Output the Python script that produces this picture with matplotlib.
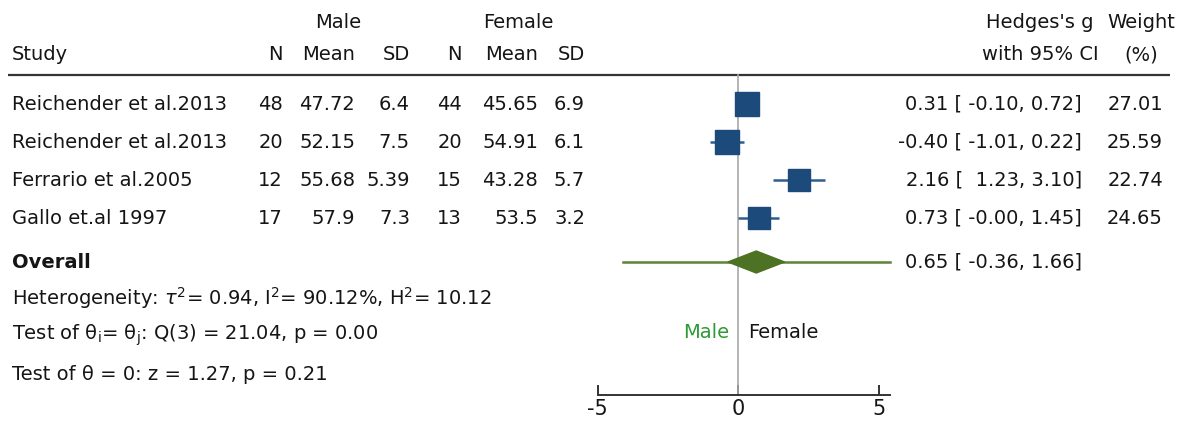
import matplotlib
matplotlib.use("Agg")
import numpy as np
import matplotlib.pyplot as plt
import matplotlib.transforms as mtransforms

plt.rcParams['font.family'] = ['DejaVu Sans']
plt.rcParams['axes.unicode_minus'] = False

# study level data
studies = ['Reichender et al.2013', 'Reichender et al.2013',
           'Ferrario et al.2005', 'Gallo et.al 1997']
male_n = [48, 20, 12, 17]
male_mean = ['47.72', '52.15', '55.68', '57.9']
male_sd = ['6.4', '7.5', '5.39', '7.3']
female_n = [44, 20, 15, 13]
female_mean = ['45.65', '54.91', '43.28', '53.5']
female_sd = ['6.9', '6.1', '5.7', '3.2']
g = [0.31, -0.40, 2.16, 0.73]
ci_lo = [-0.10, -1.01, 1.23, -0.00]
ci_hi = [0.72, 0.22, 3.10, 1.45]
weight = [27.01, 25.59, 22.74, 24.65]

# pooled estimate and prediction interval
overall_g = 0.65
overall_lo = -0.36
overall_hi = 1.66
pred_lo = -4.1
pred_hi = 5.4

xticks = [-5, 0, 5]

W, H = 1179, 426
fig = plt.figure(figsize=(W / 100, H / 100), dpi=100)
ax = fig.add_axes([0, 0, 1, 1])

# x in effect units (28.1 px per unit, zero at 738 px), y in row units (38 px per row)
pxu = 28.1
x0 = 738
ax.set_xlim(-x0 / pxu, (W - x0) / pxu)
row0, rowh = 104, 38
ax.set_ylim((H - row0) / rowh, -row0 / rowh)

def ry(px):
    return (px - row0) / rowh

tx = mtransforms.blended_transform_factory(ax.transAxes, ax.transData)
fs = 14
ink = '#151515'

def put(xpx, y, s, ha='left', **kw):
    ax.text(xpx / W, y, s, transform=tx, ha=ha, va='center',
            fontsize=kw.pop('fontsize', fs), color=kw.pop('color', ink), **kw)

# header
put(338, ry(22), 'Male', ha='center')
put(518, ry(22), 'Female', ha='center')
put(1040, ry(22), "Hedges's g", ha='center')
put(1141, ry(22), 'Weight', ha='center')
put(12, ry(55), 'Study')
for xr, s in [(283, 'N'), (355, 'Mean'), (410, 'SD'),
              (462, 'N'), (538, 'Mean'), (585, 'SD')]:
    put(xr, ry(55), s, ha='right')
put(1040, ry(55), 'with 95% CI', ha='center')
put(1141, ry(55), '(%)', ha='center')
ax.plot([8 / W, 1170 / W], [ry(75), ry(75)], transform=tx,
        color='#333333', lw=1.6, solid_capstyle='butt')

# study rows
rows = np.arange(len(studies))
for i, y in enumerate(rows):
    put(12, y, studies[i])
    put(283, y, str(male_n[i]), ha='right')
    put(355, y, male_mean[i], ha='right')
    put(410, y, male_sd[i], ha='right')
    put(462, y, str(female_n[i]), ha='right')
    put(538, y, female_mean[i], ha='right')
    put(585, y, female_sd[i], ha='right')
    lo = f'{ci_lo[i]:.2f}'
    if ci_lo[i] == 0:
        lo = '-0.00'
    put(1082, y, f'{g[i]:.2f} [{lo:>6}, {ci_hi[i]:.2f}]', ha='right')
    put(1163, y, f'{weight[i]:.2f}', ha='right')

blue = '#1c4a7b'
ax.hlines(rows, ci_lo, ci_hi, color='#2f5d8e', lw=1.8, zorder=3)
wmax = max(weight)
for i, y in enumerate(rows):
    ax.plot(g[i], y, marker='s', ms=17.3 * np.sqrt(weight[i] / wmax),
            color=blue, mec=blue, zorder=4)

# overall row
y_ov = ry(262)
put(12, y_ov, 'Overall', fontweight='bold')
put(1082, y_ov, f'{overall_g:.2f} [{overall_lo:>6.2f}, {overall_hi:.2f}]', ha='right')
ax.plot([pred_lo, pred_hi], [y_ov, y_ov], color='#5e8237', lw=1.8, zorder=3)
dh = 11 / rowh
ax.fill([overall_lo, overall_g, overall_hi, overall_g],
        [y_ov, y_ov - dh, y_ov, y_ov + dh], color='#4d7224', zorder=4)

# heterogeneity statistics
put(12, ry(298), r'Heterogeneity: $\tau^2$= 0.94, I$^2$= 90.12%, H$^2$= 10.12')
put(12, ry(335), r'Test of θ$_\mathrm{i}$= θ$_\mathrm{j}$: Q(3) = 21.04, p = 0.00')
put(12, ry(374), 'Test of θ = 0: z = 1.27, p = 0.21')

# line of no effect
ax.plot([0, 0], [ry(75), ry(395)], color='#a8a8a8', lw=1.2, zorder=2)
ax.text(-0.3, ry(333), 'Male', ha='right', va='center', fontsize=fs, color='#2e9a35')
ax.text(0.35, ry(333), 'Female', ha='left', va='center', fontsize=fs, color=ink)

# x axis
for side in ['top', 'right', 'left']:
    ax.spines[side].set_visible(False)
ax.spines['bottom'].set_position(('data', ry(395)))
ax.spines['bottom'].set_bounds(-5, 5.4)
ax.spines['bottom'].set_color('#333333')
ax.spines['bottom'].set_linewidth(1.4)
ax.set_xticks(xticks)
ax.set_xticklabels([str(t) for t in xticks])
ax.tick_params(axis='x', direction='in', length=7, width=1.4, color='#333333',
               labelsize=15, pad=3, labelcolor=ink)
ax.set_yticks([])
ax.patch.set_visible(False)

fig.savefig('out.png', dpi=100)
